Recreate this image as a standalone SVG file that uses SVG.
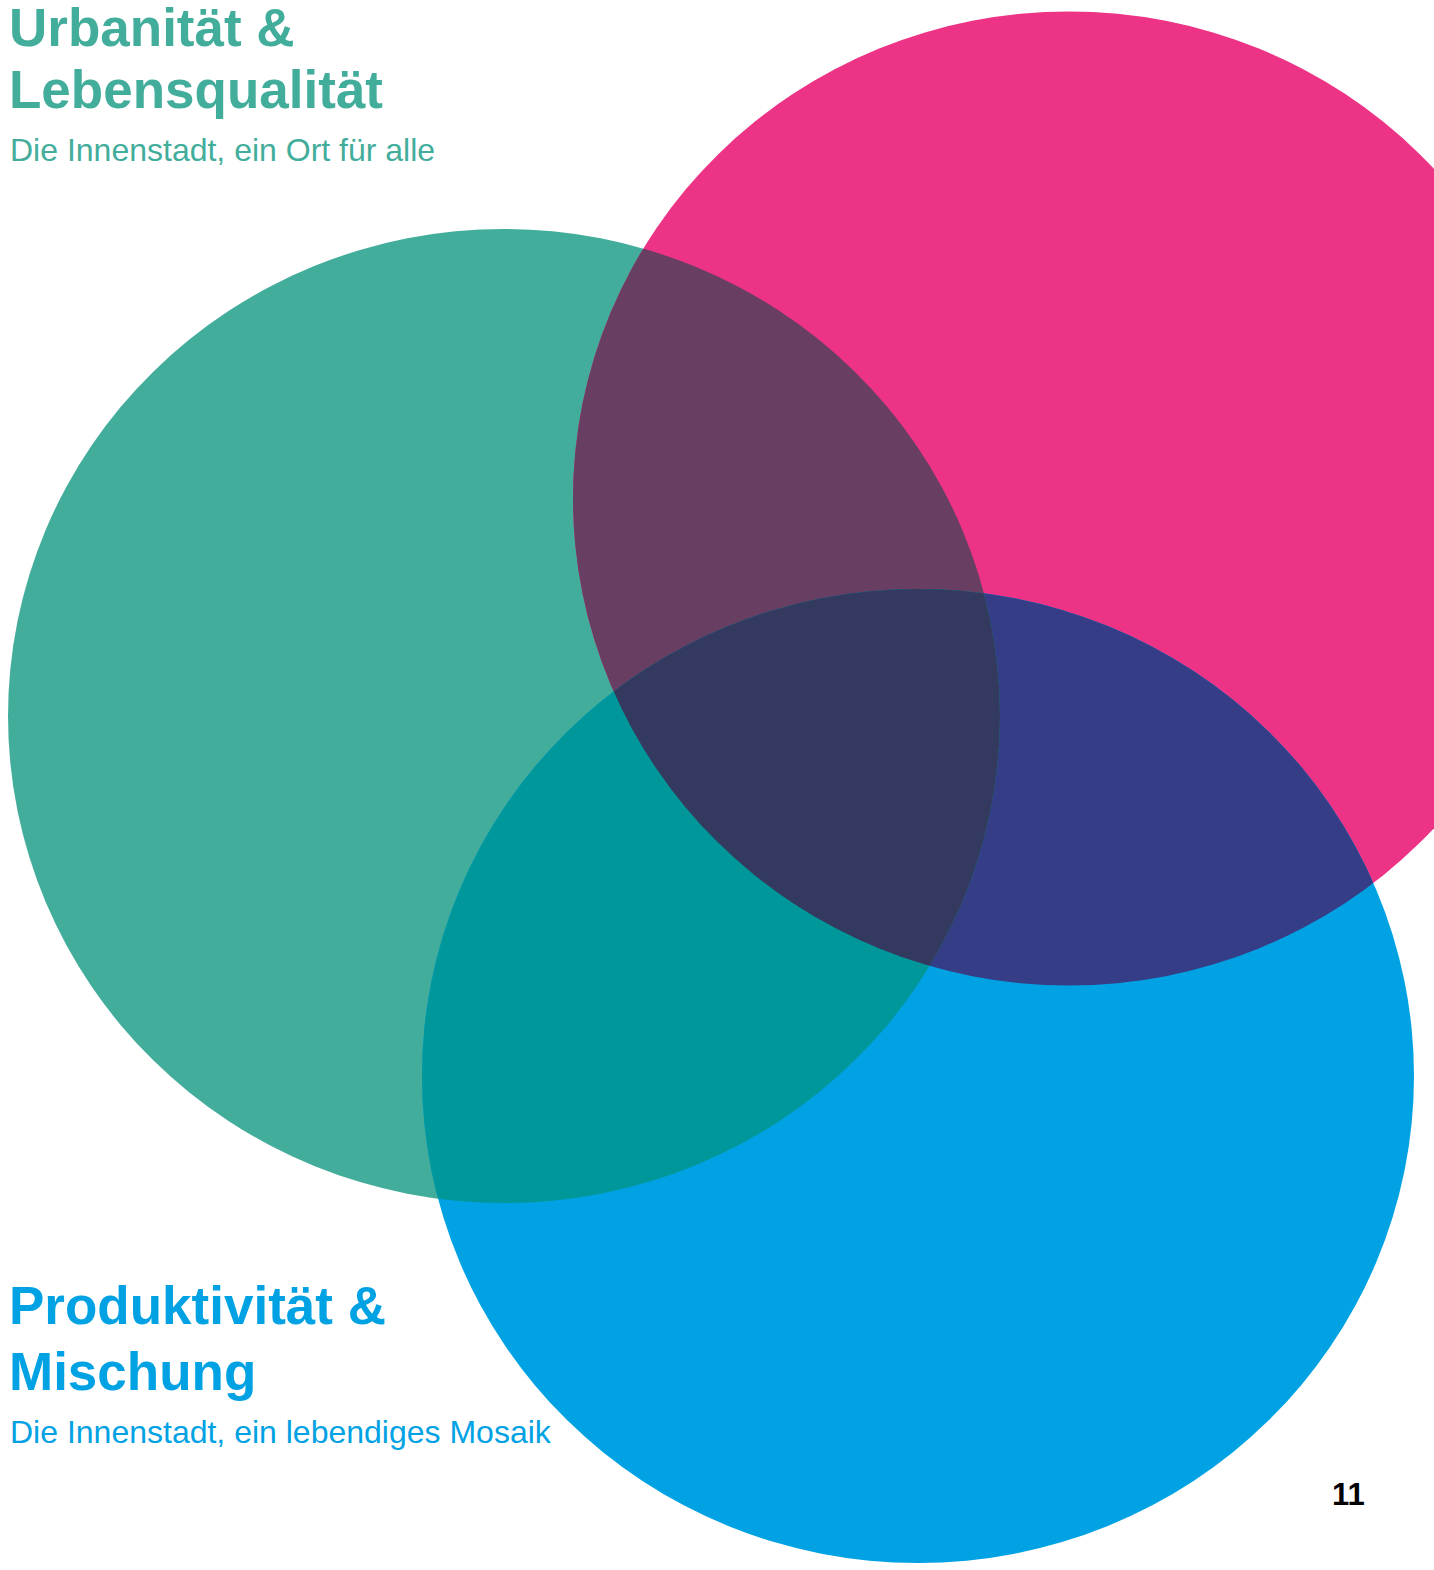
<svg xmlns="http://www.w3.org/2000/svg" width="1434" height="1570" viewBox="0 0 1434 1570">
<style>
.t{font-family:"Liberation Sans",Arial,sans-serif}
.h{font-weight:bold;font-size:53px}
.s{font-size:32px}
.green{fill:#43ad9c}
.blue{fill:#00a2e3}
</style>
<defs>
<clipPath id="cG"><ellipse cx="504" cy="716" rx="496" ry="487"/></clipPath>
<clipPath id="cP"><ellipse cx="1069" cy="498.5" rx="496" ry="487"/></clipPath>
<clipPath id="cB"><ellipse cx="918" cy="1076" rx="496" ry="487"/></clipPath>
</defs>
<rect width="1434" height="1570" fill="#fff"/>
<g id="circle-green"><ellipse cx="504" cy="716" rx="496" ry="487" fill="#43ad9c"/></g>
<g id="circle-pink"><ellipse cx="1069" cy="498.5" rx="496" ry="487" fill="#ec3385"/></g>
<g id="circle-blue"><ellipse cx="918" cy="1076" rx="496" ry="487" fill="#00a2e3"/></g>
<g id="overlaps">
<g clip-path="url(#cG)"><ellipse cx="1069" cy="498.5" rx="496" ry="487" fill="#683f62"/></g>
<g clip-path="url(#cB)"><ellipse cx="1069" cy="498.5" rx="496" ry="487" fill="#353d87"/></g>
<g clip-path="url(#cG)"><ellipse cx="918" cy="1076" rx="496" ry="487" fill="#00979b"/></g>
<g clip-path="url(#cG)"><g clip-path="url(#cP)"><ellipse cx="918" cy="1076" rx="496" ry="487" fill="#343a5f"/></g></g>
</g>
<g id="label-urbanitaet" class="t green">
<text class="h" x="9" y="46">Urbanität &amp;</text>
<text class="h" x="9" y="108">Lebensqualität</text>
<text class="s" x="10" y="161">Die Innenstadt, ein Ort für alle</text>
</g>
<g id="label-produktivitaet" class="t blue">
<text class="h" x="9" y="1324">Produktivität &amp;</text>
<text class="h" x="9" y="1390">Mischung</text>
<text class="s" x="10" y="1443">Die Innenstadt, ein lebendiges Mosaik</text>
</g>
<g id="page-number"><text class="t" x="1332" y="1505" font-weight="bold" font-size="31" fill="#000">11</text></g>
</svg>
